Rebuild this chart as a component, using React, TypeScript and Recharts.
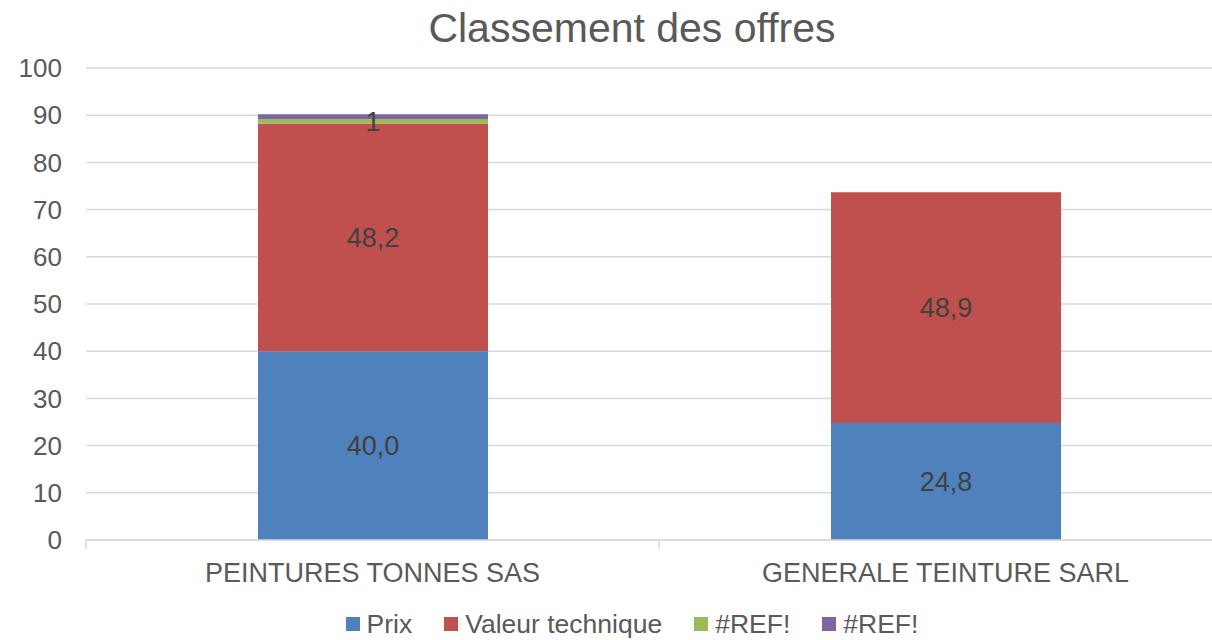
import React from "react";
import {
  BarChart,
  Bar,
  XAxis,
  YAxis,
  CartesianGrid,
  LabelList,
} from "recharts";

// Data
const categories = ["PEINTURES TONNES SAS", "GENERALE TEINTURE SARL"];
const prix = [40.0, 24.8];
const valeurTechnique = [48.2, 48.9];
const ref1 = [1, 0];
const ref2 = [1, 0];
const yTicks = [0, 10, 20, 30, 40, 50, 60, 70, 80, 90, 100];

const seriesInfo = [
  { key: "prix", name: "Prix", color: "#4F81BD" },
  { key: "valeur", name: "Valeur technique", color: "#C0504D" },
  { key: "ref1", name: "#REF!", color: "#9BBB59" },
  { key: "ref2", name: "#REF!", color: "#8064A2" },
];

const chartData = categories.map((name, i) => ({
  name,
  prix: prix[i],
  valeur: valeurTechnique[i],
  ref1: ref1[i],
  ref2: ref2[i],
}));

const FONT = '"Liberation Sans", Arial, sans-serif';
const TEXT = "#595959";
const HALF_BAND = 286.5;

const fmt1 = (v: any) => (v ? Number(v).toFixed(1).replace(".", ",") : "");
const fmt0 = (v: any) => (v ? String(Math.round(Number(v))) : "");

// category tick: label centered, small tick marks on the category boundaries
const CategoryTick = ({ x, y, payload, index }: any) => (
  <g>
    <line x1={x - HALF_BAND} x2={x - HALF_BAND} y1={y - 8} y2={y + 1} stroke="#d9d9d9" strokeWidth={1.5} />
    {index === categories.length - 1 && (
      <line x1={x + HALF_BAND} x2={x + HALF_BAND} y1={y - 8} y2={y + 1} stroke="#d9d9d9" strokeWidth={1.5} />
    )}
    <text x={x} y={y + 34} textAnchor="middle" fill={TEXT} fontSize={27} fontFamily={FONT}>
      {payload.value}
    </text>
  </g>
);

export default function App() {
  return (
    <div
      style={{
        position: "fixed",
        left: 0,
        top: 0,
        width: 1212,
        height: 640,
        overflow: "hidden",
        background: "#fff",
        fontFamily: FONT,
      }}
    >
      <div
        style={{
          position: "absolute",
          left: 0,
          width: 1264,
          top: 5,
          textAlign: "center",
          fontSize: 41,
          color: TEXT,
        }}
      >
        Classement des offres
      </div>
      <BarChart
        width={1264}
        height={640}
        data={chartData}
        margin={{ top: 68, right: 32, left: 0, bottom: 40 }}
        barSize={230}
      >
        <CartesianGrid vertical={false} stroke="#d9d9d9" strokeWidth={1.5} />
        <XAxis
          dataKey="name"
          height={60}
          tickLine={false}
          axisLine={{ stroke: "#d9d9d9", strokeWidth: 1.5 }}
          tick={<CategoryTick />}
          interval={0}
        />
        <YAxis
          width={86}
          domain={[0, 100]}
          ticks={yTicks}
          axisLine={false}
          tickLine={false}
          tickSize={0}
          tickMargin={24}
          tick={{ fill: TEXT, fontSize: 26, fontFamily: FONT }}
        />
        <Bar dataKey="prix" stackId="a" fill="#4F81BD" isAnimationActive={false}>
          <LabelList dataKey="prix" position="center" formatter={fmt1} fill="#404040" fontSize={27} fontFamily={FONT} />
        </Bar>
        <Bar dataKey="valeur" stackId="a" fill="#C0504D" isAnimationActive={false}>
          <LabelList dataKey="valeur" position="center" formatter={fmt1} fill="#404040" fontSize={27} fontFamily={FONT} />
        </Bar>
        <Bar dataKey="ref1" stackId="a" fill="#9BBB59" isAnimationActive={false}>
          <LabelList dataKey="ref1" position="center" formatter={fmt0} fill="#404040" fontSize={27} fontFamily={FONT} />
        </Bar>
        <Bar dataKey="ref2" stackId="a" fill="#8064A2" isAnimationActive={false} />
      </BarChart>
      <div
        style={{
          position: "absolute",
          left: 0,
          width: 1264,
          top: 608,
          display: "flex",
          justifyContent: "center",
          gap: 32,
          fontSize: 26.5,
          color: TEXT,
          lineHeight: "32px",
        }}
      >
        {seriesInfo.map((s) => (
          <div key={s.key} style={{ display: "flex", alignItems: "center" }}>
            <span style={{ width: 14, height: 14, background: s.color, marginRight: 7, display: "inline-block" }} />
            {s.name}
          </div>
        ))}
      </div>
    </div>
  );
}
